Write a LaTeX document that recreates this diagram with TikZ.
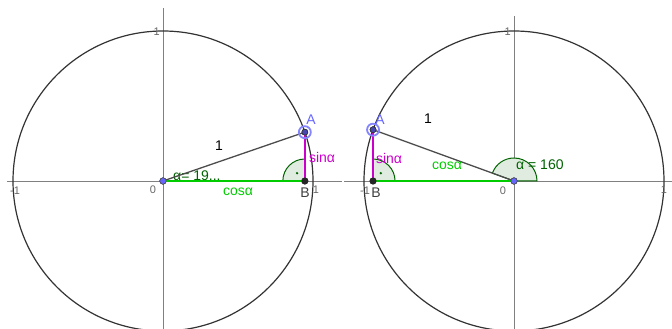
\documentclass[tikz,border=0pt]{standalone}
\usepackage{fontspec}
\setmainfont{Liberation Sans}
\usepackage{tikz}
\usetikzlibrary{calc}
\definecolor{mygreen}{rgb}{0,0.8,0}
\definecolor{mymagenta}{rgb}{0.8,0,0.8}
\definecolor{myanglecolor}{rgb}{0,0.39,0}
\definecolor{mypointblue}{rgb}{0.4,0.4,1}
\definecolor{myaxis}{rgb}{0.5,0.5,0.5}
\tikzset{
  axisline/.style={myaxis,line width=0.9pt},
  unitcircle/.style={black!80,line width=1.2pt},
  ticklabel/.style={font=\fontsize{11}{12}\selectfont,text=black!60,inner sep=1pt},
  radiusline/.style={black!70,line width=1.3pt},
  cosline/.style={mygreen,line width=2.2pt},
  sinline/.style={mymagenta,line width=2.2pt},
  anglemark/.style={myanglecolor,line width=1pt,fill=myanglecolor!12},
  origpoint/.style={circle,fill=mypointblue,draw=black!70,line width=0.6pt,inner sep=0pt,minimum size=6.5pt},
  footpoint/.style={circle,fill=black!85,inner sep=0pt,minimum size=7pt},
  movpoint/.style={circle,fill=mypointblue!70!black,draw=black!80,line width=0.6pt,inner sep=0pt,minimum size=6pt},
  halo/.style={mypointblue!80,line width=1.8pt},
  lbl/.style={font=\fontsize{14}{15}\selectfont,inner sep=1pt}
}

\begin{document}
\begin{tikzpicture}[x=1pt,y=1pt]
  \useasboundingbox (0,0) rectangle (672,329);
  % left picture, alpha = 19
  \coordinate (oL) at (163,148);
  \coordinate (aL) at ($(oL)+(19:150)$);
  \draw[axisline] (7,148) -- (342,148);
  \draw[axisline] (163,321) -- (163,0);
  \draw[unitcircle] (oL) circle (150);
    \node[ticklabel,anchor=east] (tyL) at (161,297) {1};
    \node[ticklabel] (t0L) at (153,139) {0};
    \node[ticklabel] (tmL) at (15,138) {-1};
    \node[ticklabel] (txL) at (316,139) {1};
  \coordinate (bL) at (aL |- oL);
  \draw[anglemark] (bL) -- ++(90:22) arc (90:180:22) -- cycle;
    \fill[myanglecolor] ($(bL)+(135:11)$) circle (1.3);
  \node[lbl,anchor=west,text=myanglecolor] (alL) at (172,153) {α= 19...};
  \node[origpoint] (OL) at (oL) {};
  \node[movpoint] (AL) at (aL) {};
  \node[footpoint] (BL) at (bL) {};
  \draw[radiusline] (OL.center) -- (AL.center);
  \draw[cosline] (OL.center) -- (BL.center);
  \draw[sinline] (AL.center) -- (BL.center);
  \node[origpoint] at (oL) {};
  \node[footpoint] at (bL) {};
  \draw[halo] (AL.center) circle (6);
  \node[movpoint] at (aL) {};
    \node[lbl,text=mypointblue] (nAL) at (311,209) {A};
    \node[lbl,text=black!75] (nBL) at (305,136) {B};
    \node[lbl] (rL) at (219,183) {1};
    \node[lbl,text=mygreen] (cL) at (238,137) {cosα};
    \node[lbl,text=mymagenta] (sL) at (322,172) {sinα};
  % right picture, alpha = 160
  \coordinate (oR) at (514,148);
  \coordinate (aR) at ($(oR)+(160:150)$);
  \draw[axisline] (344,148) -- (672,148);
  \draw[axisline] (514,313) -- (514,0);
  \draw[unitcircle] (oR) circle (150);
    \node[ticklabel,anchor=east] (tyR) at (512,297) {1};
    \node[ticklabel] (t0R) at (503,138) {0};
    \node[ticklabel] (tmR) at (365,138) {-1};
    \node[ticklabel] (txR) at (664,139) {1};
  \coordinate (bR) at (aR |- oR);
  \draw[anglemark] (oR) -- ++(0:23) arc (0:160:23) -- cycle;
  \draw[anglemark] (bR) -- ++(0:22) arc (0:90:22) -- cycle;
    \fill[myanglecolor] ($(bR)+(45:11)$) circle (1.3);
  \node[lbl,anchor=west,text=myanglecolor] (alR) at (515,164) {α = 160};
  \node[origpoint] (OR) at (oR) {};
  \node[movpoint] (AR) at (aR) {};
  \node[footpoint] (BR) at (bR) {};
  \draw[radiusline] (OR.center) -- (AR.center);
  \draw[cosline] (OR.center) -- (BR.center);
  \draw[sinline] (AR.center) -- (BR.center);
  \node[origpoint] at (oR) {};
  \node[footpoint] at (bR) {};
  \draw[halo] (AR.center) circle (6);
  \node[movpoint] at (aR) {};
    \node[lbl,text=mypointblue] (nAR) at (380,209) {A};
    \node[lbl,text=black!75] (nBR) at (376,136) {B};
    \node[lbl] (rR) at (428,210) {1};
    \node[lbl,text=mygreen] (cR) at (447,163) {cosα};
    \node[lbl,text=mymagenta] (sR) at (389,171) {sinα};
\end{tikzpicture}
\end{document}
